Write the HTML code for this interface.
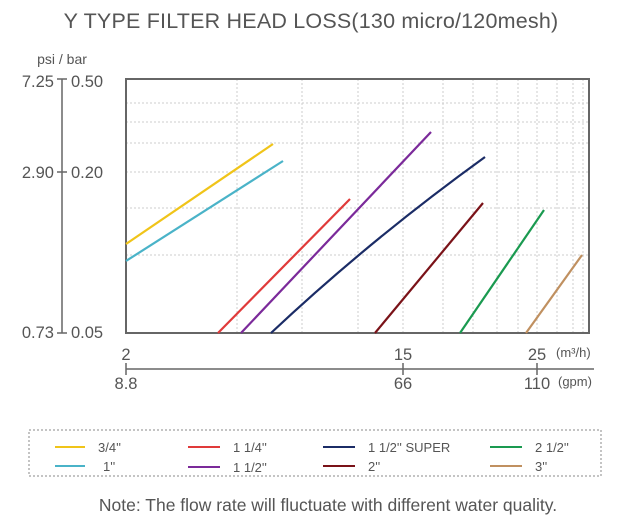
<!DOCTYPE html>
<html><head><meta charset="utf-8"><style>
body{margin:0;background:#fff;}
svg text{font-family:"Liberation Sans",sans-serif;fill:#555;}
</style></head><body>
<svg width="622" height="524" xmlns="http://www.w3.org/2000/svg">
<text x="311" y="28" font-size="21.5" text-anchor="middle" letter-spacing="0.2">Y TYPE FILTER HEAD LOSS(130 micro/120mesh)</text>
<text x="62" y="64" font-size="14" text-anchor="middle">psi / bar</text>
<g stroke="#ccc" stroke-width="1" stroke-dasharray="2,2">
<line x1="126" y1="103" x2="589" y2="103"/><line x1="126" y1="122" x2="589" y2="122"/>
<line x1="126" y1="143" x2="589" y2="143"/><line x1="126" y1="172" x2="589" y2="172"/>
<line x1="126" y1="208" x2="589" y2="208"/><line x1="126" y1="255" x2="589" y2="255"/>
<line x1="237" y1="79" x2="237" y2="333"/><line x1="302" y1="79" x2="302" y2="333"/>
<line x1="358" y1="79" x2="358" y2="333"/><line x1="403" y1="79" x2="403" y2="333"/>
<line x1="443" y1="79" x2="443" y2="333"/><line x1="473" y1="79" x2="473" y2="333"/>
<line x1="497" y1="79" x2="497" y2="333"/><line x1="518" y1="79" x2="518" y2="333"/>
<line x1="537" y1="79" x2="537" y2="333"/><line x1="557" y1="79" x2="557" y2="333"/>
<line x1="573" y1="79" x2="573" y2="333"/><line x1="583" y1="79" x2="583" y2="333"/>
</g>
<rect x="126" y="79" width="463" height="254" fill="none" stroke="#666" stroke-width="2"/>
<g stroke-width="2.2" fill="none">
<line x1="126" y1="244" x2="273" y2="144" stroke="#f0c419"/>
<line x1="126" y1="261" x2="283" y2="161" stroke="#4ab3c8"/>
<line x1="218" y1="333" x2="350" y2="199" stroke="#e03a3a"/>
<line x1="241" y1="333" x2="431" y2="132" stroke="#7b2a9a"/>
<path d="M271 333 Q370 240 485 157" stroke="#1b2c66"/>
<line x1="375" y1="333" x2="483" y2="203" stroke="#7a1218"/>
<line x1="460" y1="333" x2="544" y2="210" stroke="#1a9a50"/>
<line x1="526" y1="333" x2="582" y2="255" stroke="#c09060"/>
</g>
<g stroke="#666" stroke-width="1.5">
<line x1="62" y1="79" x2="62" y2="333"/>
<line x1="57" y1="79" x2="67" y2="79"/><line x1="57" y1="172" x2="67" y2="172"/><line x1="57" y1="333" x2="67" y2="333"/>
<line x1="126" y1="369" x2="594" y2="369"/>
<line x1="126" y1="363" x2="126" y2="375"/><line x1="403" y1="363" x2="403" y2="375"/><line x1="537" y1="363" x2="537" y2="375"/>
</g>
<g font-size="16.5">
<text x="54" y="87" text-anchor="end">7.25</text><text x="71" y="87">0.50</text>
<text x="54" y="178" text-anchor="end">2.90</text><text x="71" y="178">0.20</text>
<text x="54" y="338" text-anchor="end">0.73</text><text x="71" y="338">0.05</text>
<text x="126" y="360" text-anchor="middle">2</text>
<text x="403" y="360" text-anchor="middle">15</text>
<text x="537" y="360" text-anchor="middle">25</text>
<text x="126" y="389" text-anchor="middle">8.8</text>
<text x="403" y="389" text-anchor="middle">66</text>
<text x="537" y="389" text-anchor="middle">110</text>
</g>
<text x="556" y="357" font-size="13">(m³/h)</text>
<text x="558" y="386" font-size="13">(gpm)</text>
<rect x="29" y="430" width="572" height="46" fill="none" stroke="#888" stroke-width="1" stroke-dasharray="2,2"/>
<g stroke-width="2">
<line x1="55" y1="447" x2="85" y2="447" stroke="#f0c419"/>
<line x1="55" y1="466" x2="85" y2="466" stroke="#4ab3c8"/>
<line x1="188" y1="447" x2="220" y2="447" stroke="#e03a3a"/>
<line x1="188" y1="467" x2="220" y2="467" stroke="#7b2a9a"/>
<line x1="323" y1="447" x2="355" y2="447" stroke="#1b2c66"/>
<line x1="323" y1="466" x2="355" y2="466" stroke="#7a1218"/>
<line x1="490" y1="447" x2="522" y2="447" stroke="#1a9a50"/>
<line x1="490" y1="466" x2="522" y2="466" stroke="#c09060"/>
</g>
<g font-size="13">
<text x="98" y="452">3/4''</text><text x="103" y="471">1''</text>
<text x="233" y="452">1 1/4''</text><text x="233" y="472">1 1/2''</text>
<text x="368" y="452">1 1/2'' SUPER</text><text x="368" y="471">2''</text>
<text x="535" y="452">2 1/2''</text><text x="535" y="471">3''</text>
</g>
<text x="328" y="511" font-size="17.5" text-anchor="middle">Note: The flow rate will fluctuate with different water quality.</text>
</svg>
</body></html>
